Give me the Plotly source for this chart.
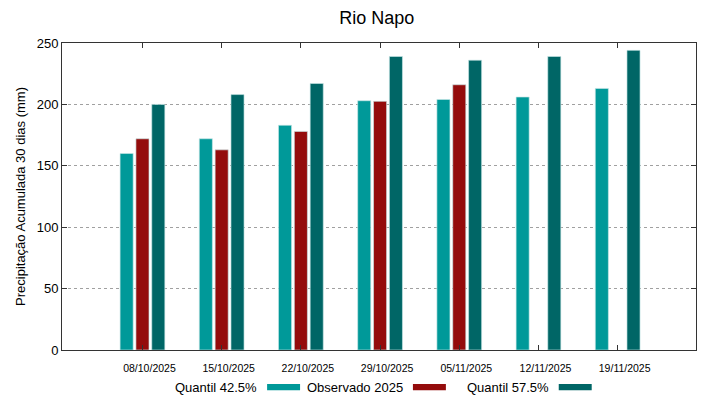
import plotly.graph_objects as go

dates = ["08/10/2025", "15/10/2025", "22/10/2025", "29/10/2025",
         "05/11/2025", "12/11/2025", "19/11/2025"]
q425 = [160, 172, 183, 203, 204, 206, 213]
obs2025 = [172, 163, 178, 202.5, 216, None, None]
q575 = [200, 208, 217, 239, 236, 239, 244]

names = ["Quantil 42.5%", "Observado 2025", "Quantil 57.5%"]
colors = ["#009999", "#940c0c", "#006666"]
series = [q425, obs2025, q575]

xpos = list(range(len(dates)))
bw = 0.165
centers = [-0.2, 0.0, 0.2]

fig = go.Figure()
for name, col, vals, c in zip(names, colors, series, centers):
    fig.add_trace(go.Bar(
        x=xpos, y=vals, name=name, width=bw, offset=c - bw / 2,
        marker=dict(color=col, line=dict(color="rgba(200,230,230,0.8)", width=0.8)),
        showlegend=False,
    ))

font = "Liberation Sans, Arial, sans-serif"

# Manual legend (text then sample, gnuplot style)
leg_text_right = [0.311, 0.541, 0.771]
for name, col, xr in zip(names, colors, leg_text_right):
    fig.add_annotation(xref="paper", yref="paper", x=xr, y=-0.121, text=name,
                       showarrow=False, xanchor="right", yanchor="middle",
                       font=dict(family=font, size=13, color="#000"))
    fig.add_shape(type="rect", xref="paper", yref="paper",
                  x0=xr + 0.0125, x1=xr + 0.0645, y0=-0.131, y1=-0.111,
                  fillcolor=col, line=dict(width=0))

fig.update_layout(
    width=719, height=399,
    margin=dict(l=50, r=31, t=35, b=57),
    paper_bgcolor="white", plot_bgcolor="white",
    barmode="overlay",
    title=dict(text="Rio Napo", x=0.513, xanchor="center", y=0.975, yanchor="middle",
               font=dict(family=font, size=18, color="#000")),
    font=dict(family=font, color="#000"),
    xaxis=dict(
        range=[-1.016, 6.989], tickmode="array", tickvals=xpos, ticktext=dates,
        ticks="inside", ticklen=5, tickcolor="#333", mirror="ticks",
        showline=True, linecolor="#333", linewidth=1, showgrid=False,
        zeroline=False, tickfont=dict(size=10.5, family=font, color="#000"),
        ticklabelshift=7, ticklabelstandoff=8,
    ),
    yaxis=dict(
        range=[0, 250], tickvals=[0, 50, 100, 150, 200, 250],
        ticks="inside", ticklen=5, tickcolor="#333", mirror="ticks",
        showline=True, linecolor="#333", linewidth=1,
        showgrid=True, gridcolor="#a0a0a0", griddash="dot", gridwidth=1,
        zeroline=False, tickfont=dict(size=13, family=font, color="#000"),
        title=dict(text="Precipitação Acumulada 30 dias (mm)",
                   font=dict(size=13, family=font, color="#000"), standoff=8),
    ),
)

fig.write_html("out.html")
